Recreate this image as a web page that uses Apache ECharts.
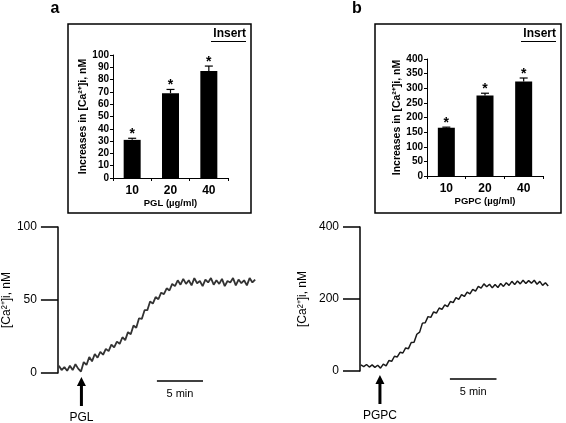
<!DOCTYPE html>
<html>
<head>
<meta charset="utf-8">
<script src="https://cdn.jsdelivr.net/npm/echarts@6/dist/echarts.min.js"></script>
<style>
html,body{margin:0;padding:0;background:#fff;}
#c{width:566px;height:423px;}
</style>
</head>
<body>
<div id="c"></div>
<script>
// ---------- data ----------
const insetCats = ['10', '20', '40'];
const pglMean = [31, 69, 87];
const pglErr = [1.3, 3, 4];
const pgpcMean = [165, 275, 323];
const pgpcErr = [2, 8, 12];
const insetTicksA = [0, 100, 10];   // min, max, interval
const insetTicksB = [0, 400, 50];

// sample times (min) of the traces
const sampleTimes = [0.1,0.4,0.7,1.0,1.3,1.6,1.9,2.2,2.5,2.8,3.1,3.4,3.7,4.0,4.3,4.6,4.9,5.2,5.5,5.8,
  6.1,6.4,6.7,7.0,7.3,7.6,7.9,8.2,8.5,8.8,9.1,9.4,9.7,10.0,10.3,10.6,10.9,11.2,11.5,11.8,
  12.1,12.4,12.7,13.0,13.3,13.6,13.9,14.2,14.5,14.8,15.1,15.4,15.7,16.0,16.3,16.6,16.9,17.2,17.5,17.8,
  18.1,18.4,18.7,19.0,19.3,19.6,19.9,20.2,20.5,20.8,21.1,21.4];
// [Ca2+]i trace after PGL (nM)
const pglTrace = [5,2,4,1.5,5,2,6,3,1,7.5,5.5,11,8,13,10.5,14.5,12.5,16.5,15,19.5,
  17.5,21.5,20,24.5,22.5,28,26.5,32.5,31,37.5,37,43,43,49,47.5,52,50.5,55,54,58,
  56.5,61,59.5,63.5,60.5,64.5,61,63.5,60,65,61.5,63,59.5,64,62,65,60.5,63.5,61,64.5,
  59.5,63,62,65,60,64,61.5,63.5,60,65,62,64];
// [Ca2+]i trace after PGPC (nM)
const pgpcTrace = [17,12,18,11,17,10,16,8,19,14,29,27,41,39,52,50,64,62,79,80,
  102,108,133,134,151,149,164,161,175,171,184,179,193,190,204,199,212,207,219,214,
  227,222,235,230,242,234,241,231,240,232,243,235,245,238,249,240,250,242,252,243,
  251,244,252,241,249,238,245,236];
const traceA_max = 21.6, traceB_max = 20.5;
const arrowTimeA = 2.55, arrowTimeB = 2.14;
const scaleBarStartA = 10.74, scaleBarStartB = 9.65, scaleBarLen = 5;
const traceTicksA = [0, 100, 50];
const traceTicksB = [0, 400, 200];

// ---------- chart ----------
const FONT = "'Liberation Sans', Arial, sans-serif";
const chart = echarts.init(document.getElementById('c'), null, {renderer: 'canvas'});

function insetY(ticks, gi) {
  return {
    type: 'value', gridIndex: gi, min: ticks[0], max: ticks[1], interval: ticks[2],
    name: 'Increases in [Ca²⁺]i, nM', nameLocation: 'middle', nameGap: 23,
    nameTextStyle: {fontFamily: FONT, fontWeight: 'bold', fontSize: 10.5, color: '#000'},
    axisLine: {show: true, lineStyle: {color: '#000', width: 1}},
    axisTick: {show: true, length: 3, lineStyle: {color: '#000'}},
    axisLabel: {fontFamily: FONT, fontWeight: 'bold', fontSize: 10, color: '#000', margin: 4},
    splitLine: {show: false}
  };
}
function insetX(gi, name) {
  return {
    type: 'category', gridIndex: gi, data: insetCats,
    name: name, nameLocation: 'middle', nameGap: 20,
    nameTextStyle: {fontFamily: FONT, fontWeight: 'bold', fontSize: 9.5, color: '#000'},
    axisLine: {show: true, lineStyle: {color: '#000', width: 1}},
    axisTick: {show: true, length: 3, alignWithLabel: false, lineStyle: {color: '#000'}},
    axisLabel: {fontFamily: FONT, fontWeight: 'bold', fontSize: 12, color: '#000', margin: 7},
    splitLine: {show: false}
  };
}
function traceY(ticks, gi, gap) {
  return {
    type: 'value', gridIndex: gi, min: ticks[0], max: ticks[1], interval: ticks[2],
    name: '[Ca²⁺]i, nM', nameLocation: 'middle', nameGap: gap,
    nameTextStyle: {fontFamily: FONT, fontSize: 12, color: '#000'},
    axisLine: {show: true, lineStyle: {color: '#000', width: 1.5}},
    axisTick: {show: true, length: 17, lineStyle: {color: '#000', width: 1.5}},
    axisLabel: {fontFamily: FONT, fontSize: 12, color: '#000', margin: 21},
    splitLine: {show: false}
  };
}
function traceX(gi, max) {
  return {type: 'value', gridIndex: gi, min: 0, max: max, show: false, splitLine: {show: false}};
}
function errRender(params, api) {
  const x = api.value(0), m = api.value(1), e = api.value(2);
  const top = api.coord([x, m]);
  const cap = api.coord([x, m + e]);
  return {
    type: 'group',
    children: [
      {type: 'line', shape: {x1: top[0], y1: top[1], x2: cap[0], y2: cap[1]}, style: {stroke: '#000', lineWidth: 1.2}},
      {type: 'line', shape: {x1: cap[0] - 4, y1: cap[1], x2: cap[0] + 4, y2: cap[1]}, style: {stroke: '#000', lineWidth: 1.2}},
      {type: 'text', style: {text: '*', x: cap[0], y: cap[1] + 3, textAlign: 'center', textVerticalAlign: 'bottom',
        font: "bold 14px 'Liberation Sans', Arial, sans-serif", fill: '#000'}}
    ]
  };
}

const option = {
  animation: false,
  backgroundColor: '#fff',
  grid: [
    {left: 113, top: 55, width: 115, height: 123},
    {left: 427, top: 59, width: 116, height: 117},
    {left: 54, top: 227, width: 203, height: 146},
    {left: 360, top: 227, width: 191, height: 144}
  ],
  xAxis: [insetX(0, 'PGL (µg/ml)'), insetX(1, 'PGPC (µg/ml)'), traceX(2, traceA_max), traceX(3, traceB_max)],
  yAxis: [insetY(insetTicksA, 0), insetY(insetTicksB, 1), traceY(traceTicksA, 2, 41), traceY(traceTicksB, 3, 51)],
  series: [
    {type: 'bar', xAxisIndex: 0, yAxisIndex: 0, data: pglMean, barWidth: 17, itemStyle: {color: '#000'}},
    {type: 'custom', xAxisIndex: 0, yAxisIndex: 0, renderItem: errRender,
      data: insetCats.map((c, i) => [i, pglMean[i], pglErr[i]]), z: 3},
    {type: 'bar', xAxisIndex: 1, yAxisIndex: 1, data: pgpcMean, barWidth: 17, itemStyle: {color: '#000'}},
    {type: 'custom', xAxisIndex: 1, yAxisIndex: 1, renderItem: errRender,
      data: insetCats.map((c, i) => [i, pgpcMean[i], pgpcErr[i]]), z: 3},
    {type: 'line', xAxisIndex: 2, yAxisIndex: 2, showSymbol: false, symbol: 'none',
      data: sampleTimes.slice(0, pglTrace.length).map((t, i) => [t, pglTrace[i]]),
      lineStyle: {color: '#333', width: 1.8}},
    {type: 'line', xAxisIndex: 3, yAxisIndex: 3, showSymbol: false, symbol: 'none',
      data: sampleTimes.slice(0, pgpcTrace.length).map((t, i) => [t, pgpcTrace[i]]),
      lineStyle: {color: '#1a1a1a', width: 1.5}}
  ]
};
chart.setOption(option);

// ---------- annotations placed through the axes ----------
function annot(gi, arrowT, barStart, label, prefix) {
  const p = chart.convertToPixel({xAxisIndex: gi, yAxisIndex: gi}, [arrowT, 0]);
  const b0 = chart.convertToPixel({xAxisIndex: gi, yAxisIndex: gi}, [barStart, 0]);
  const b1 = chart.convertToPixel({xAxisIndex: gi, yAxisIndex: gi}, [barStart + scaleBarLen, 0]);
  const x = p[0], y0 = p[1] + 4;
  const yb = b0[1] + 8;
  return [
    {type: 'polygon', id: prefix + 'arrow', shape: {points: [[x, y0], [x - 4.5, y0 + 9], [x - 1.5, y0 + 9], [x - 1.5, y0 + 29],
      [x + 1.5, y0 + 29], [x + 1.5, y0 + 9], [x + 4.5, y0 + 9]]}, style: {fill: '#000'}},
    {type: 'text', id: prefix + 'lbl', style: {text: label, x: x, y: y0 + 41, textAlign: 'center', textVerticalAlign: 'middle',
      font: "12px 'Liberation Sans', Arial, sans-serif", fill: '#000'}},
    {type: 'line', id: prefix + 'bar', shape: {x1: b0[0], y1: yb, x2: b1[0], y2: yb}, style: {stroke: '#000', lineWidth: 1.5}},
    {type: 'text', id: prefix + 'min', style: {text: '5 min', x: (b0[0] + b1[0]) / 2, y: yb + 13, textAlign: 'center', textVerticalAlign: 'middle',
      font: "11px 'Liberation Sans', Arial, sans-serif", fill: '#000'}}
  ];
}
function insetBox(prefix, x, y, w, h) {
  return [
    {type: 'rect', id: prefix + 'box', shape: {x: x, y: y, width: w, height: h}, style: {fill: null, stroke: '#000', lineWidth: 1.5}, z: 0},
    {type: 'text', id: prefix + 'ins', style: {text: 'Insert', x: x + w - 5, y: y + 10, textAlign: 'right', textVerticalAlign: 'middle',
      font: "bold 12px 'Liberation Sans', Arial, sans-serif", fill: '#000'}},
    {type: 'line', id: prefix + 'ul', shape: {x1: x + w - 40, y1: y + 17.5, x2: x + w - 5, y2: y + 17.5}, style: {stroke: '#000', lineWidth: 1}}
  ];
}
const graphics = [].concat(
  insetBox('a', 68, 24, 183, 189),
  insetBox('b', 375, 24, 186, 189),
  [
    {type: 'text', id: 'la', style: {text: 'a', x: 55, y: 9, textAlign: 'center', textVerticalAlign: 'middle',
      font: "bold 16px 'Liberation Sans', Arial, sans-serif", fill: '#000'}},
    {type: 'text', id: 'lb', style: {text: 'b', x: 357, y: 9, textAlign: 'center', textVerticalAlign: 'middle',
      font: "bold 16px 'Liberation Sans', Arial, sans-serif", fill: '#000'}}
  ],
  annot(2, arrowTimeA, scaleBarStartA, 'PGL', 'A'),
  annot(3, arrowTimeB, scaleBarStartB, 'PGPC', 'B')
);
chart.setOption({graphic: graphics});
</script>
</body>
</html>
